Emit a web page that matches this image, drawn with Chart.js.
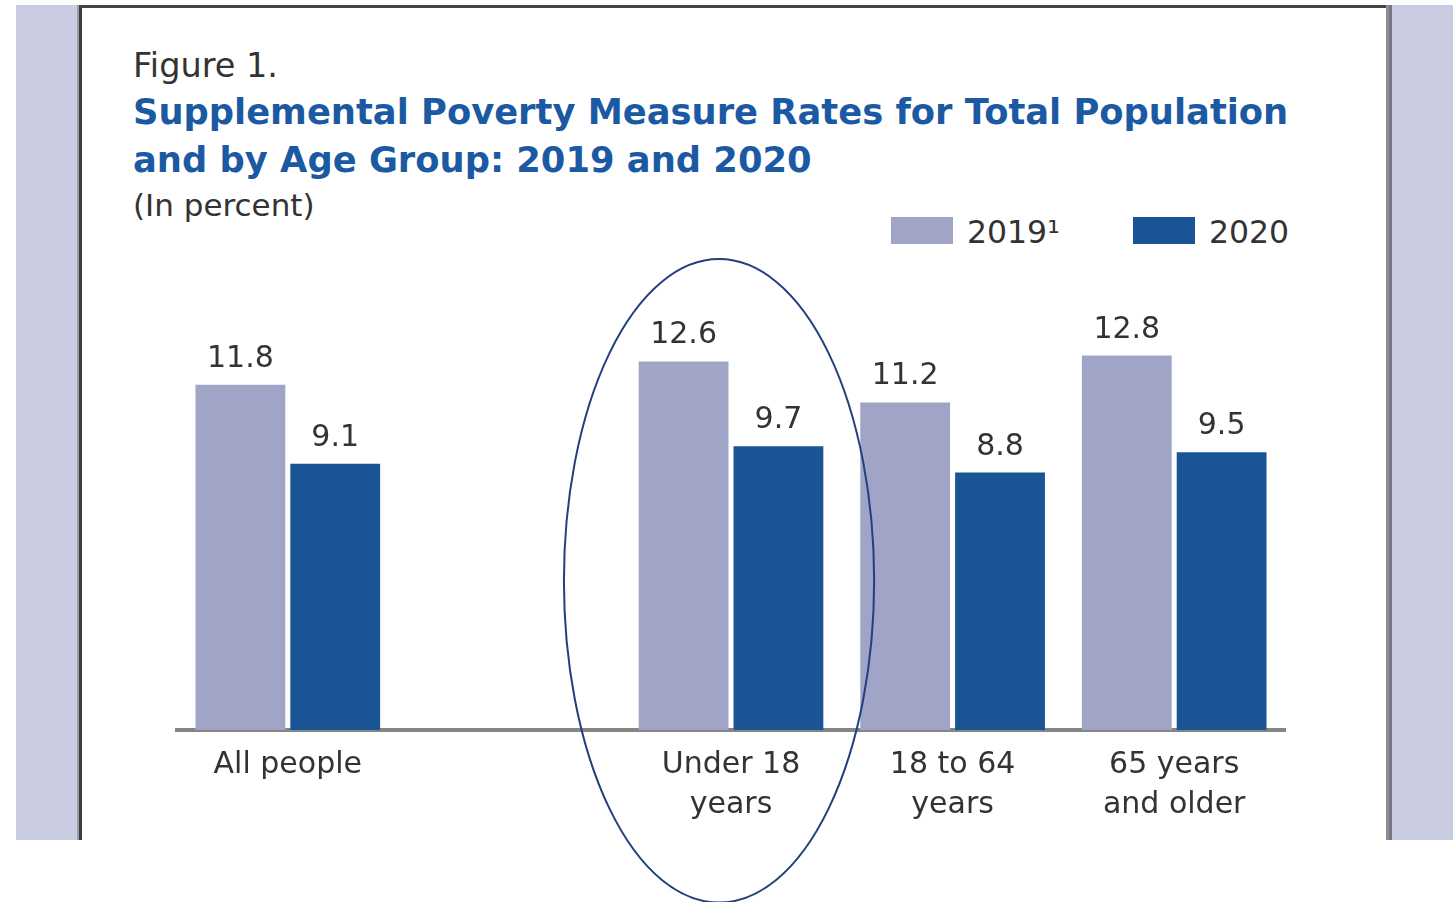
<!DOCTYPE html>
<html>
<head>
<meta charset="utf-8">
<script src="https://cdn.jsdelivr.net/npm/chart.js@4"></script>
<style>
    body { margin: 0; background: #fff; }
    #page { position: relative; width: 1453px; height: 902px; overflow: hidden; font-family: "DejaVu Sans", sans-serif; }
    .abs { position: absolute; }
    #chart { position: absolute; left: 0; top: 0; }
</style>
</head>
<body>
<div id="page">
    <div class="abs" style="left:16px;top:5px;width:61px;height:835px;background:#c9cbe0"></div>
    <div class="abs" style="left:77px;top:5px;width:2px;height:835px;background:#9c9ca6"></div>
    <div class="abs" style="left:79px;top:5px;width:3px;height:835px;background:#3d3d3d"></div>
    <div class="abs" style="left:79px;top:5px;width:1310px;height:3px;background:#444"></div>
    <div class="abs" style="left:1386px;top:5px;width:3px;height:835px;background:#8e8e8e"></div>
    <div class="abs" style="left:1389px;top:5px;width:3px;height:835px;background:#76768a"></div>
    <div class="abs" style="left:1392px;top:5px;width:61px;height:835px;background:#c9cbe0"></div>

    <div class="abs" style="left:133px;top:49px;font-size:33.5px;line-height:33px;color:#333">Figure 1.</div>
    <div class="abs" style="left:133px;top:88px;font-size:35.3px;line-height:48px;font-weight:bold;color:#1b5aa3;white-space:nowrap">Supplemental Poverty Measure Rates for Total Population<br>and by Age Group: 2019 and 2020</div>
    <div class="abs" style="left:133px;top:190px;font-size:31px;line-height:31px;color:#333">(In percent)</div>

    <div id="legend"></div>
    <canvas id="chart" width="1453" height="902"></canvas>
</div>
<script>
const categories = [['All people'], '', ['Under 18', 'years'], ['18 to 64', 'years'], ['65 years', 'and older']];
const series_labels = ['2019\u00b9', '2020'];
const values_2019 = [11.8, null, 12.6, 11.2, 12.8];
const values_2020 = [9.1, null, 9.7, 8.8, 9.5];
const colors = ['#a0a5c7', '#1a5494'];

// legend (html)
const legend_x = [[891, 967], [1133, 1209]];
const legend = document.getElementById('legend');
series_labels.forEach((label, i) => {
    const box = document.createElement('div');
    box.className = 'abs';
    box.style.cssText = 'left:' + legend_x[i][0] + 'px;top:217px;width:62px;height:27px;background:' + colors[i];
    legend.appendChild(box);
    const txt = document.createElement('div');
    txt.className = 'abs';
    txt.style.cssText = 'left:' + legend_x[i][1] + 'px;top:217px;font-size:31.5px;line-height:31px;color:#333';
    txt.textContent = label;
    legend.appendChild(txt);
});

const valueLabels = {
    id: 'valueLabels',
    afterDatasetsDraw(chart) {
        const ctx = chart.ctx;
        ctx.save();
        ctx.font = '30px "DejaVu Sans"';
        ctx.fillStyle = '#333';
        ctx.textAlign = 'center';
        ctx.textBaseline = 'alphabetic';
        chart.data.datasets.forEach((ds, i) => {
            chart.getDatasetMeta(i).data.forEach((bar, j) => {
                if (ds.data[j] == null) return;
                ctx.fillText(ds.data[j].toFixed(1), bar.x, bar.y - 18);
            });
        });
        ctx.restore();
    }
};

const ellipseNote = {
    id: 'ellipseNote',
    afterDraw(chart) {
        const x = chart.scales.x;
        const y = chart.scales.y;
        const catW = x.getPixelForValue(1) - x.getPixelForValue(0);
        const cx = x.getPixelForValue(2) - 0.054 * catW;
        const cy = y.getPixelForValue(5.1);
        const ry = y.getPixelForValue(0) - y.getPixelForValue(11.0);
        const ctx = chart.ctx;
        ctx.save();
        ctx.beginPath();
        ctx.ellipse(cx, cy, 0.70 * catW, ry, 0, 0, Math.PI * 2);
        ctx.strokeStyle = '#243f80';
        ctx.lineWidth = 2;
        ctx.stroke();
        ctx.restore();
    }
};

new Chart(document.getElementById('chart').getContext('2d'), {
    type: 'bar',
    data: {
        labels: categories,
        datasets: [{
            label: series_labels[0],
            data: values_2019,
            backgroundColor: colors[0],
            categoryPercentage: 0.856,
            barPercentage: 0.947
        }, {
            label: series_labels[1],
            data: values_2020,
            backgroundColor: colors[1],
            categoryPercentage: 0.856,
            barPercentage: 0.947
        }]
    },
    options: {
        responsive: false,
        animation: false,
        layout: { padding: { left: 177, right: 168, top: 262, bottom: 0 } },
        plugins: {
            legend: { display: false },
            tooltip: { enabled: false }
        },
        scales: {
            x: {
                grid: { display: false, drawTicks: false },
                border: { display: true, color: '#858585', width: 4 },
                ticks: {
                    color: '#333',
                    padding: 15,
                    font: { family: 'DejaVu Sans', size: 30, lineHeight: 1.33 }
                },
                afterFit: (scale) => { scale.height = 172; }
            },
            y: {
                display: false,
                min: 0,
                max: 16
            }
        }
    },
    plugins: [valueLabels, ellipseNote]
});
</script>
</body>
</html>
